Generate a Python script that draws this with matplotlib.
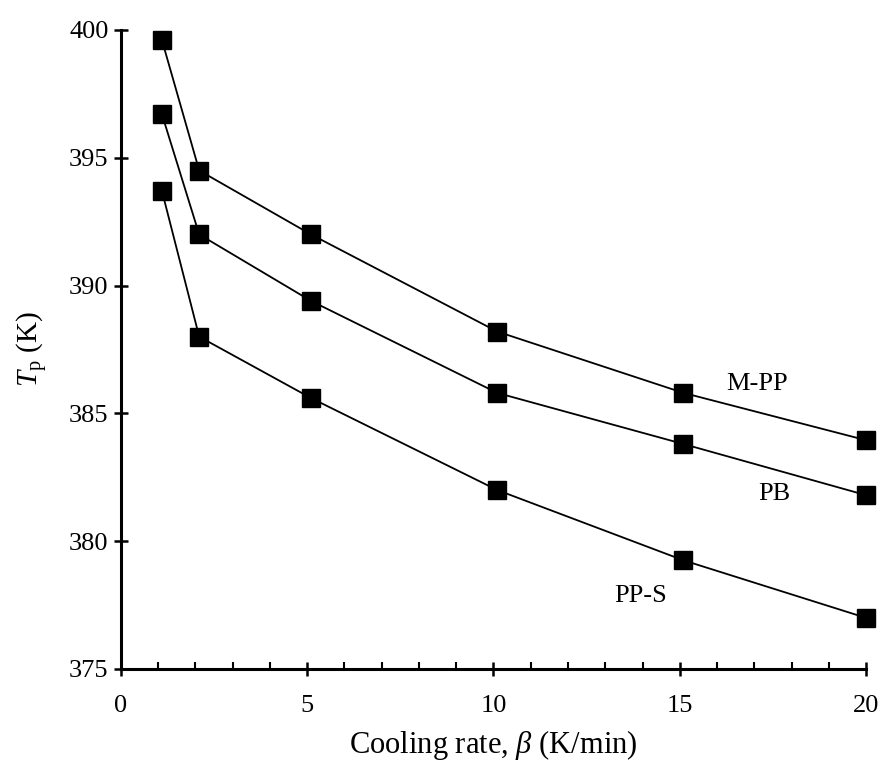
import matplotlib
matplotlib.use("Agg")
import matplotlib.pyplot as plt
from matplotlib.ticker import MultipleLocator

plt.rcParams['font.family'] = ['Liberation Serif', 'DejaVu Serif']
plt.rcParams['mathtext.fontset'] = 'custom'
plt.rcParams['mathtext.rm'] = 'Liberation Serif'
plt.rcParams['mathtext.it'] = 'Liberation Serif:italic'

cooling_rate = [1.1, 2.1, 5.1, 10.1, 15.1, 20.0]
tp_mpp = [399.6, 394.5, 392.0, 388.2, 385.8, 383.95]
tp_pb = [396.7, 392.0, 389.4, 385.8, 383.8, 381.8]
tp_pps = [393.7, 388.0, 385.6, 382.0, 379.25, 377.0]
series_labels = ["M-PP", "PB", "PP-S"]

fig = plt.figure(figsize=(8.81, 7.67), dpi=100)
ax = fig.add_axes([0.1373, 0.1278, 0.8457, 0.8332])

for ys in (tp_mpp, tp_pb, tp_pps):
    ax.plot(cooling_rate, ys, color='black', lw=1.3, marker='s', ms=12.5,
            mfc='black', mec='black', clip_on=False, zorder=3)

ax.set_xlim(0, 20)
ax.set_ylim(375, 400)
ax.xaxis.set_major_locator(MultipleLocator(5))
ax.xaxis.set_minor_locator(MultipleLocator(1))
ax.yaxis.set_major_locator(MultipleLocator(5))

for s in ('top', 'right'):
    ax.spines[s].set_visible(False)
for s in ('left', 'bottom'):
    ax.spines[s].set_linewidth(2.2)

ax.tick_params(axis='both', which='major', direction='inout', length=10, width=1.8,
               labelsize=19, pad=4)
ax.tick_params(axis='x', which='minor', direction='in', length=5, width=1.5)
ax.tick_params(axis='x', which='major', pad=14)

ax.text(16.24, 386.13, series_labels[0], fontsize=19, ha='left', va='center')
ax.text(17.1, 381.83, series_labels[1], fontsize=19, ha='left', va='center')
ax.text(13.23, 377.84, series_labels[2], fontsize=19, ha='left', va='center')

ax.set_xlabel(r'Cooling rate, $\beta$ (K/min)', fontsize=22, labelpad=8)
ax.set_ylabel(r'$T_{\rm p}$ (K)', fontsize=21, labelpad=14)

fig.savefig('out.png', dpi=100)
